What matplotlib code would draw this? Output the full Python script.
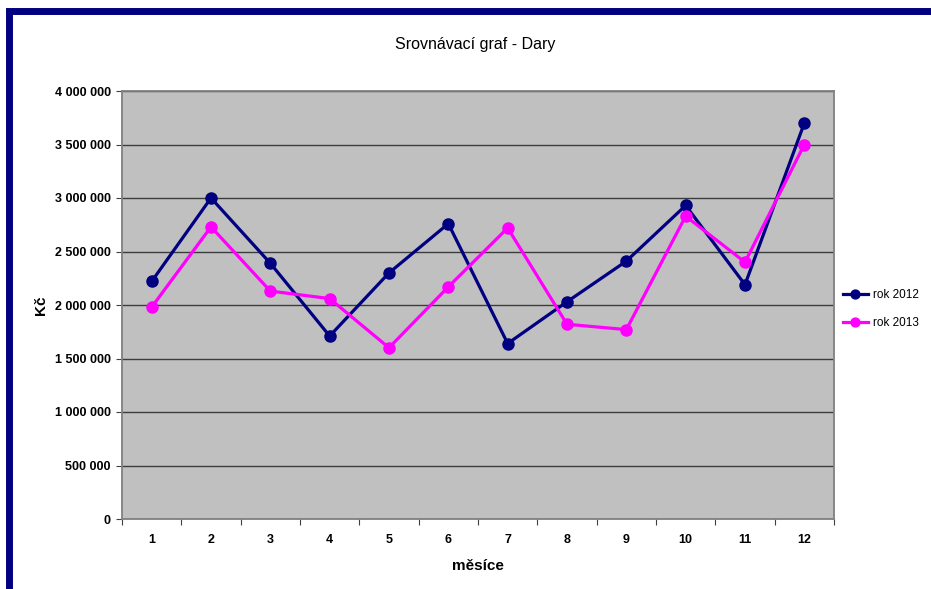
import matplotlib
matplotlib.use('Agg')
import matplotlib.pyplot as plt
from matplotlib.patches import Rectangle
from matplotlib.ticker import FuncFormatter

plt.rcParams['font.family'] = ['Liberation Sans', 'DejaVu Sans']

# data
months = [1, 2, 3, 4, 5, 6, 7, 8, 9, 10, 11, 12]
rok_2012 = [2220000, 3000000, 2390000, 1710000, 2300000, 2760000,
            1640000, 2030000, 2410000, 2930000, 2190000, 3700000]
rok_2013 = [1980000, 2730000, 2130000, 2060000, 1600000, 2170000,
            2720000, 1820000, 1770000, 2830000, 2400000, 3500000]
y_ticks = [0, 500000, 1000000, 1500000, 2000000, 2500000, 3000000, 3500000, 4000000]

fig = plt.figure(figsize=(9.31, 5.89), dpi=100, facecolor='white')

# dark blue frame (cut off on the right and bottom)
fig.patches.append(Rectangle((9 / 931, -0.1), 1.2, (589 - 11) / 589 + 0.1,
                             transform=fig.transFigure, facecolor='none',
                             edgecolor='#000080', linewidth=5, zorder=5))

ax = fig.add_axes([122 / 931, 70 / 589, (834 - 122) / 931, (519 - 91) / 589])
ax.set_facecolor('#c0c0c0')

ax.plot(months, rok_2012, color='#000080', lw=2.3, marker='o', ms=8,
        label='rok 2012', zorder=3)
ax.plot(months, rok_2013, color='#ff00ff', lw=2.3, marker='o', ms=8,
        label='rok 2013', zorder=3)

ax.set_xlim(0.5, 12.5)
ax.set_ylim(0, 4000000)

# category axis: marks between months, labels at month centres
ax.set_xticks([m - 0.5 for m in months] + [12.5])
ax.set_xticklabels([])
ax.set_xticks(months, minor=True)
ax.set_xticklabels([str(m) for m in months], minor=True)
ax.tick_params(axis='x', which='major', direction='out', length=4, color='#404040')
ax.tick_params(axis='x', which='minor', length=0, pad=11)

ax.set_yticks(y_ticks)
ax.yaxis.set_major_formatter(FuncFormatter(lambda v, p: f'{int(v):,}'.replace(',', ' ')))
ax.tick_params(axis='y', direction='out', length=4, color='#404040', pad=4)

for lab in ax.get_xticklabels(minor=True) + ax.get_yticklabels():
    lab.set_fontsize(9)
    lab.set_fontweight('bold')

ax.grid(axis='y', color='#3c3c3c', lw=1)
ax.set_axisbelow(True)
for s in ax.spines.values():
    s.set_color('#808080')
    s.set_linewidth(1.3)

ax.set_xlabel('měsíce', fontsize=11, fontweight='bold', labelpad=9.5)
ax.set_ylabel('Kč', fontsize=11, fontweight='bold', labelpad=5)
fig.text(475 / 931, 1 - 44 / 589, 'Srovnávací graf - Dary', fontsize=11.5,
         ha='center', va='center')

ax.legend(loc='center left', bbox_to_anchor=(843 / 931, 1 - 309 / 589),
          bbox_transform=fig.transFigure, frameon=False, fontsize=8.5,
          handlelength=2.1, handletextpad=0.4, labelspacing=1.3,
          borderaxespad=0, borderpad=0, markerscale=0.8)

fig.savefig('out.png', dpi=100)
